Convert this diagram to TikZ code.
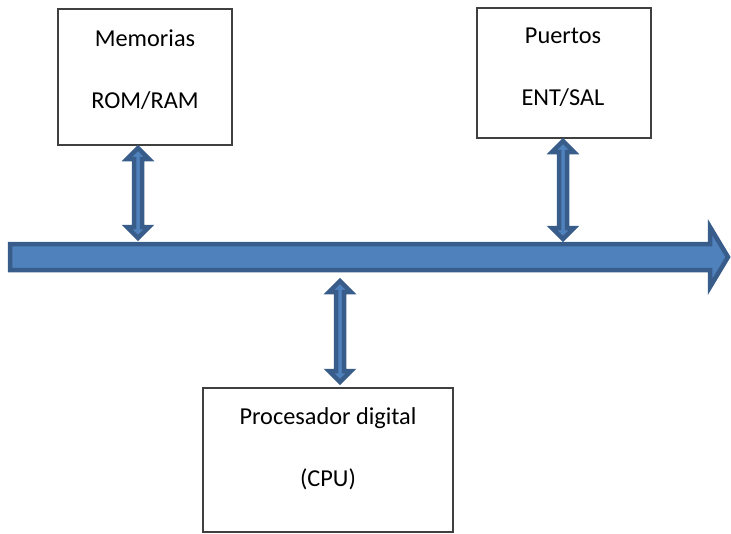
\documentclass[tikz,border=0pt]{standalone}
\usepackage{fontspec}
\setmainfont{Carlito}
\definecolor{busfill}{HTML}{4F81BD}
\definecolor{busline}{HTML}{385D8A}
\definecolor{boxline}{HTML}{404040}
\tikzset{
  busstyle/.style={fill=busfill, draw=busline, line width=4.5pt, line join=miter},
  unitbox/.style={draw=boxline, line width=1.3pt, fill=white, inner sep=0pt},
  lbl/.style={font=\fontsize{24.3}{28}\selectfont, text=black, inner sep=0pt}
}
\newcommand{\vdarr}[3]{%
  \draw[busstyle] (#1,#2) -- (#1+11,#2+11) -- (#1+4,#2+11) -- (#1+4,#3-11) -- (#1+11,#3-11)
    -- (#1,#3) -- (#1-11,#3-11) -- (#1-4,#3-11) -- (#1-4,#2+11) -- (#1-11,#2+11) -- cycle;}
\begin{document}
\begin{tikzpicture}[x=1pt,y=-1pt]
\useasboundingbox (0,0) rectangle (731,533);
% boxes
\node[unitbox, minimum width=174pt, minimum height=136pt] (mem) at (145,77) {};
\node[unitbox, minimum width=174pt, minimum height=130pt] (port) at (564,73) {};
\node[unitbox, minimum width=250pt, minimum height=144pt] (cpu) at (328,460) {};
\node[lbl] (memA) at (145,38) {Memorias};
\node[lbl] (memB) at (145,101) {ROM/RAM};
\node[lbl] (portA) at (563,36) {Puertos};
\node[lbl] (portB) at (563,98) {ENT/SAL};
\node[lbl] (cpuA) at (328,418) {Procesador digital};
\node[lbl] (cpuB) at (328,479) {(CPU)};
% bus
\draw[busstyle] (10,244) -- (710,244) -- (710,227) -- (728,257) -- (710,287)
  -- (710,270) -- (10,270) -- cycle;
% double arrows
\vdarr{138}{148}{238}
\vdarr{563}{141}{239}
\vdarr{340}{281}{382}
\end{tikzpicture}
\end{document}
